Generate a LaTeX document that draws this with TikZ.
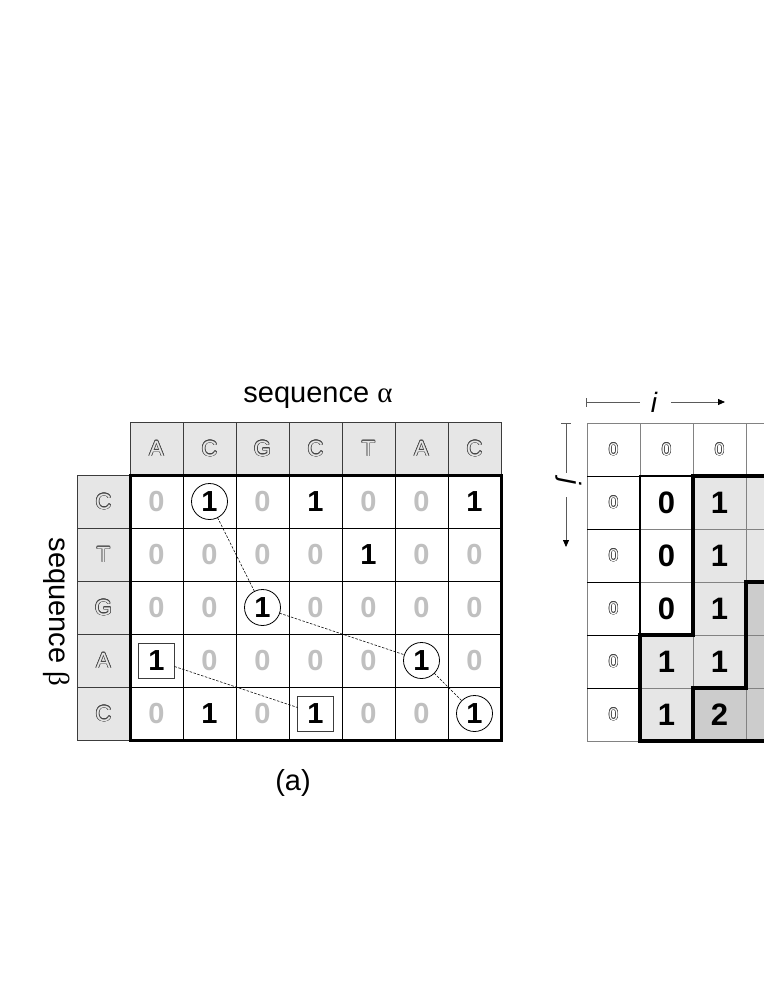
\documentclass[tikz,border=0pt]{standalone}
\usepackage{fontspec}
\setmainfont{Liberation Sans}
\newfontfamily\serifgr{Liberation Serif}
\usetikzlibrary{arrows.meta}
\definecolor{hdrgray}{RGB}{230,230,230}
\definecolor{darkfill}{RGB}{204,204,204}
\definecolor{zgray}{RGB}{192,192,192}
\definecolor{hdrline}{RGB}{60,60,60}
\definecolor{hdrtext}{RGB}{70,70,70}
\definecolor{rline}{RGB}{130,130,130}
\definecolor{arrline}{RGB}{90,90,90}
% #1 colour, #2 radius (pt), #3 text : copies of the text on a small ring
\newcommand{\ringof}[3]{{\color{#1}\foreach \ang in {0,30,...,330}{%
  \pgfmathsetlengthmacro\ddx{#2*cos(\ang)}\pgfmathsetlengthmacro\ddy{#2*sin(\ang)}%
  \rlap{\hspace*{\ddx}\raisebox{\ddy}{#3}}}}}
\newcommand{\outl}[2]{\ringof{hdrtext}{0.6}{#2}\textcolor{#1}{#2}}
\begin{document}
\begin{tikzpicture}[x=1pt,y=-1pt,
  every node/.style={inner sep=0pt, outer sep=0pt},
  hdr/.style={draw=hdrline, fill=hdrgray, minimum size=53pt, line width=0.8pt, font=\fontsize{22}{22}\selectfont},
  cellL/.style={draw=black, minimum size=53pt, line width=0.8pt, font=\bfseries\fontsize{29}{29}\selectfont},
  circ/.style={draw, circle, minimum size=36pt, line width=0.8pt},
  sqr/.style={draw=hdrline, minimum width=36pt, minimum height=35pt, line width=0.8pt},
  link/.style={dash pattern=on 2.5pt off 1.5pt, line width=0.6pt},
  lbl/.style={font=\fontsize{29}{29}\selectfont},
  cellR/.style={draw=rline, minimum size=53pt, line width=0.8pt},
  small/.style={font=\fontsize{17}{17}\selectfont},
  big/.style={font=\bfseries\fontsize{31}{31}\selectfont},
  ijlbl/.style={font=\itshape\fontsize{28}{28}\selectfont},
]
\useasboundingbox[fill=white] (0,0) rectangle (763,987);

% ---------- (a) ----------
\node[lbl] (seqa) at (318,398) {sequence {\serifgr α}};
\node[lbl, rotate=-90] (seqb) at (57,612) {sequence {\serifgr β}};
\node[lbl] (capa) at (293,783) {(a)};

\foreach \t [count=\cc from 0] in {A,C,G,C,T,A,C}
  \node[hdr] (H\cc) at ({130+53*(\cc+0.5)},448.5) {\outl{hdrgray}{\t}};
\foreach \t [count=\r from 0] in {C,T,G,A,C}
  \node[hdr] (V\r) at (103.5,{475+53*(\r+0.5)}) {\outl{hdrgray}{\t}};

\foreach \row [count=\r from 0] in {{0,1,0,1,0,0,1},{0,0,0,0,1,0,0},{0,0,1,0,0,0,0},{1,0,0,0,0,1,0},{0,1,0,1,0,0,1}}
  \foreach \v [count=\cc from 0] in \row
    \node[cellL] (L\r\cc) at ({130+53*(\cc+0.5)},{475+53*(\r+0.5)})
      {\ifnum\v=1 1\else\textcolor{zgray}{0}\fi};

\draw[line width=3pt] (L00.north west) rectangle (L46.south east);

\node[circ] (c1) at (L01) {};
\node[circ] (c2) at (L22) {};
\node[circ] (c3) at (L35) {};
\node[circ] (c4) at (L46) {};
\node[sqr] (s1) at (L30) {};
\node[sqr] (s2) at (L43) {};
\draw[link] (c1) -- (c2);
\draw[link] (c2) -- (c3);
\draw[link] (c3) -- (c4);
\draw[link] (s1) -- (s2);

% ---------- (b) ----------
\foreach \r/\cc/\f/\t/\s in {
  0/0/white/\outl{white}{0}/small, 1/0/white/\outl{white}{0}/small, 2/0/white/\outl{white}{0}/small,
  3/0/white/\outl{white}{0}/small, 4/0/white/\outl{white}{0}/small, 5/0/white/\outl{white}{0}/small,
  0/1/white/\outl{white}{0}/small, 0/2/white/\outl{white}{0}/small, 0/3/white/{}/small,
  1/1/white/0/big, 2/1/white/0/big, 3/1/white/0/big,
  4/1/hdrgray/1/big, 5/1/hdrgray/1/big,
  1/2/hdrgray/1/big, 2/2/hdrgray/1/big, 3/2/hdrgray/1/big, 4/2/hdrgray/1/big,
  5/2/darkfill/2/big,
  1/3/hdrgray/{}/big, 2/3/hdrgray/{}/big,
  3/3/darkfill/{}/big, 4/3/darkfill/{}/big, 5/3/darkfill/{}/big}
  \node[cellR, fill=\f, \s] (R\r\cc) at ({587+53*(\cc+0.5)},{423+53*(\r+0.5)}) {\t};

\foreach \r in {1,...,5}
  \draw[line width=0.8pt] (R\r0.north west) -- (R\r0.north east);

\draw[line width=2pt] (R31.south west) -- (R11.north west) -- (R11.north east);
\draw[line width=3.5pt] (R13.north east) -- (R12.north west) -- (R32.south west)
  -- (R41.north west) -- (R51.south west) -- (R53.south east);
\draw[line width=3.5pt] (R33.north east) -- (R33.north west) -- (R43.south west)
  -- (R52.north west) -- (R52.south west);

% index arrows
\node[ijlbl] (ilab) at (654,402) {i};
\coordinate (i0) at (586,402);
\coordinate (i1) at (640,402);
\coordinate (i2) at (671,402);
\coordinate (i3) at (725,402);
\draw[arrline, line width=0.8pt, {Bar[width=9pt]}-] (i0) -- (i1);
\draw[arrline, line width=0.8pt, -{Triangle[length=7pt,width=6pt,fill=black,color=black]}] (i2) -- (i3);

\node[ijlbl, rotate=-90] (jlab) at (569,482) {j};
\coordinate (j0) at (566,423);
\coordinate (j1) at (566,473);
\coordinate (j2) at (566,497);
\coordinate (j3) at (566,547);
\draw[arrline, line width=0.8pt, {Bar[width=10pt]}-] (j0) -- (j1);
\draw[arrline, line width=0.8pt, -{Triangle[length=7pt,width=6pt,fill=black,color=black]}] (j2) -- (j3);
\end{tikzpicture}
\end{document}
